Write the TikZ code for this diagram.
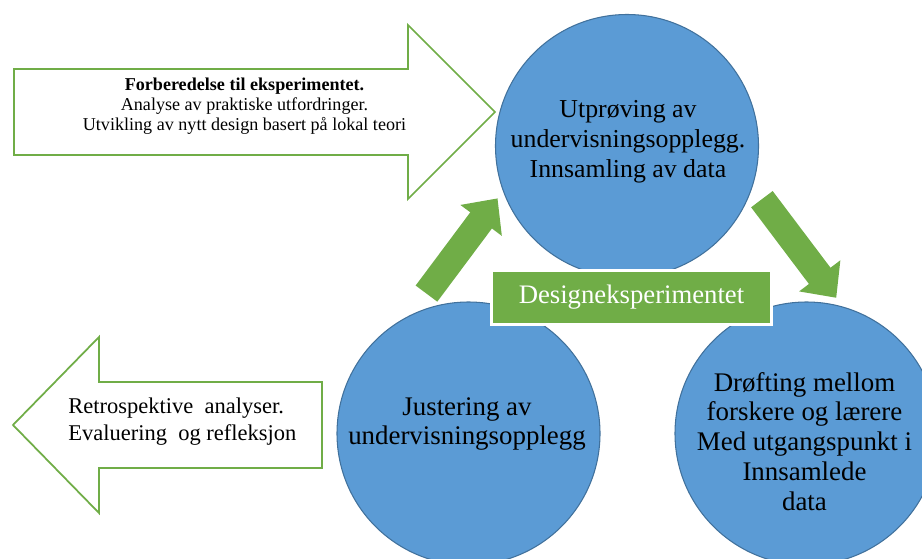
\documentclass[tikz,border=0pt]{standalone}
\usepackage{fontspec}
\setmainfont{Liberation Serif}
\usetikzlibrary{arrows.meta}

\definecolor{phaseblue}{HTML}{5B9BD5}
\definecolor{phaseline}{HTML}{41719C}
\definecolor{cyclegreen}{HTML}{70AD47}

\begin{document}
\begin{tikzpicture}[
  phase/.style={circle, draw=phaseline, line width=0.6pt, fill=phaseblue,
    minimum size=5.26cm, inner sep=0pt},
  phasetext/.style={align=center, font=\fontsize{15.3}{17}\selectfont},
  blockarr/.style={draw=cyclegreen, line width=1pt, fill=white, line join=miter},
  cyclearr/.style={-{Triangle[width=1.0cm, length=0.55cm]}, line width=0.54cm,
    draw=cyclegreen},
  banner/.style={draw=white, line width=0.06cm, fill=cyclegreen, text=white,
    minimum width=5.6cm, minimum height=1.08cm,
    font=\fontsize{15.2}{17}\selectfont},
]
  \useasboundingbox (0,0) rectangle (18.44,11.16);

  % Phases of the cycle
  \node[phase] (utproving) at (12.54, 8.24) {};
  \node[phase] (justering) at (9.37, 2.49) {};
  \node[phase] (drofting) at (16.13, 2.49) {};

  \node[phasetext, font=\fontsize{14.7}{17}\selectfont] (utproving-text) at (12.56, 8.32)
    {Utprøving av\\undervisningsopplegg.\\Innsamling av data};
  \node[phasetext] (justering-text) at (9.34, 2.68)
    {Justering av\\undervisningsopplegg};
  \node[phasetext] (drofting-text) at (16.09, 2.33)
    {Drøfting mellom\\forskere og lærere\\Med utgangspunkt i\\Innsamlede\\data};

  % Cycle arrows
  \draw[cyclearr, shorten <=0.53cm, shorten >=0.18cm] (justering.116.8) -- (utproving.200.5);
  \draw[cyclearr, shorten <=0.31cm, shorten >=0.22cm] (utproving.342.4) -- (drofting.74.3);

  % Title banner
  \node[banner] (design) at (12.63, 5.21) {Designeksperimentet};

  % Before the experiment
  \draw[blockarr] (0.28, 9.78) -- (8.16, 9.78) -- (8.16, 10.66) -- (9.90, 8.92)
    -- (8.16, 7.18) -- (8.16, 8.06) -- (0.28, 8.06) -- cycle;
  \node[align=center, font=\fontsize{10.3}{11.3}\selectfont] (forberedelse) at (4.89, 9.04)
    {\textbf{Forberedelse til eksperimentet.}\\Analyse av praktiske utfordringer.\\
     Utvikling av nytt design basert på lokal teori};

  % After the experiment
  \draw[blockarr] (0.26, 2.66) -- (1.98, 4.42) -- (1.98, 3.52) -- (6.44, 3.52)
    -- (6.44, 1.80) -- (1.98, 1.80) -- (1.98, 0.90) -- cycle;
  \node[align=left, anchor=west, inner sep=0pt, font=\fontsize{12.8}{15.3}\selectfont]
    (retrospektiv) at (1.36, 2.73)
    {Retrospektive\ \ analyser.\\Evaluering\ \ og refleksjon};

\end{tikzpicture}
\end{document}
